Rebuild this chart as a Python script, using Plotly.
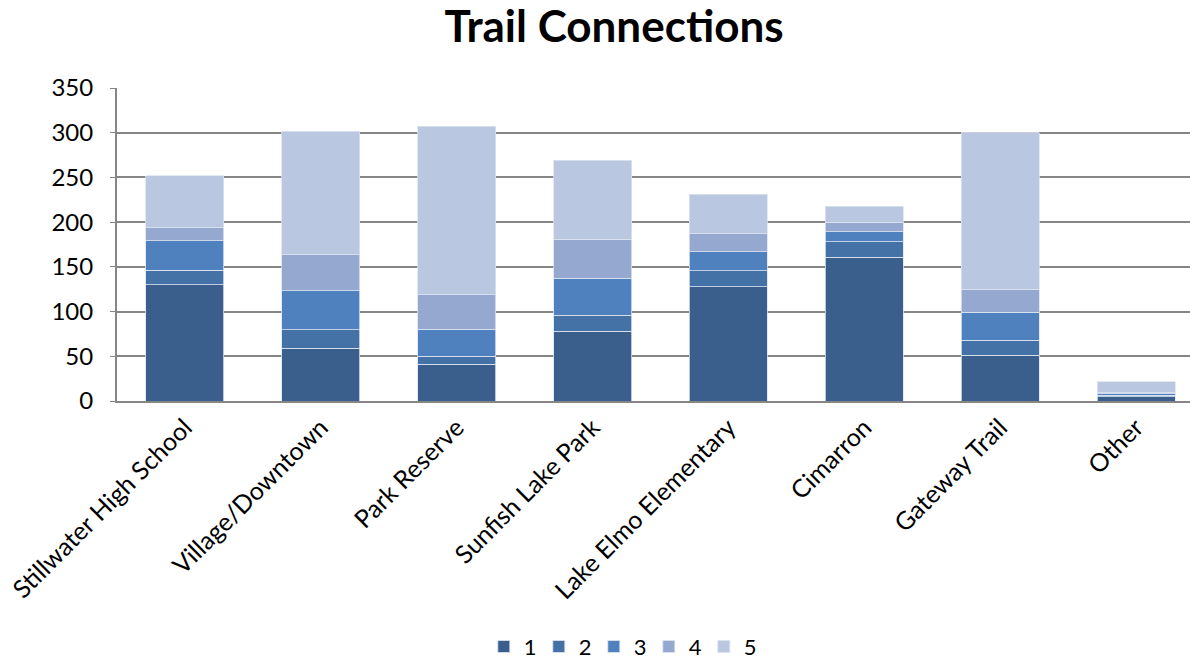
import plotly.graph_objects as go

categories = ["Stillwater High School", "Village/Downtown", "Park Reserve", "Sunfish Lake Park",
              "Lake Elmo Elementary", "Cimarron", "Gateway Trail", "Other"]
series_names = ["1", "2", "3", "4", "5"]
s1 = [130, 59, 41, 78, 127.5, 161, 51, 5]
s2 = [16, 20.5, 9, 18, 18, 17, 17, 1.5]
s3 = [33, 44, 30, 41, 21.5, 11, 31, 1.5]
s4 = [15, 40, 39, 44, 20, 11, 26, 1.5]
s5 = [58, 138, 188, 88, 44, 18, 175, 12]
colors = ["#3A5F8D", "#4471A6", "#4E81BD", "#95A9D0", "#BAC7E1"]

fig = go.Figure()
for name, vals, col in zip(series_names, [s1, s2, s3, s4, s5], colors):
    fig.add_trace(go.Bar(x=categories, y=vals, name=name,
                         marker=dict(color=col, line=dict(color="#DCE3F0", width=0.8)),
                         width=0.574))

fig.update_layout(
    barmode="stack",
    width=1190, height=663,
    paper_bgcolor="white", plot_bgcolor="white",
    font=dict(family="Lato, Open Sans, sans-serif", color="black", size=24),
    title=dict(text="<b>Trail Connections</b>", x=0.516, xanchor="center", y=0.96, yanchor="middle",
               font=dict(size=44, color="black")),
    margin=dict(l=117, r=0, t=88, b=262, autoexpand=False),
    legend=dict(orientation="h", x=0.47, xanchor="center", y=-0.785, yanchor="middle",
                font=dict(size=22), traceorder="normal", itemwidth=30, tracegroupgap=0,
                entrywidth=10, entrywidthmode="pixels"),
)
fig.update_xaxes(range=[-0.5, 7.397], tickangle=-45, showline=True, linecolor="#868686", linewidth=2,
                 ticks="", tickfont=dict(size=25), showgrid=False, automargin=False)
fig.update_yaxes(range=[0, 350], dtick=50, showgrid=True, gridcolor="#868686", gridwidth=2,
                 showline=True, linecolor="#868686", linewidth=2, ticks="outside", ticklen=5,
                 tickcolor="#868686", tickfont=dict(size=24), zeroline=False, automargin=False,
                 ticklabelstandoff=12)

fig.write_html("out.html", config={"displayModeBar": False},
               post_script="document.body.style.margin='0';")
